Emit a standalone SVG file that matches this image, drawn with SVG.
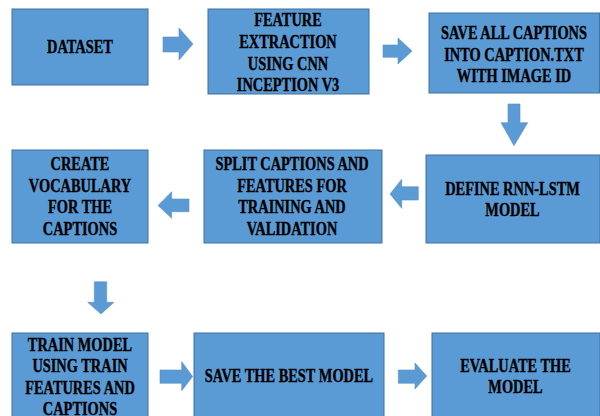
<svg xmlns="http://www.w3.org/2000/svg" width="600" height="416" viewBox="0 0 600 416">
  <style>
    .box { fill: #5B9BD5; stroke: #41719C; stroke-width: 1; }
    .arrow { fill: #5B9BD5; stroke: #5A8FC4; stroke-width: 0.6; }
    .label { font-weight: bold; font-size: 18px; text-anchor: middle; fill: #000; stroke: #000; stroke-width: 0.35; }
  </style>
  <rect width="600" height="416" fill="#FFFFFF"/>

  <!-- process steps -->
  <g font-family="'Liberation Serif', 'DejaVu Serif', serif">
  <g id="dataset">
    <rect class="box" x="12" y="9" width="136" height="76"/>
    <g transform="translate(80,0) scale(0.8,1)">
      <text class="label" x="0" y="53.5">DATASET</text>
    </g>
  </g>

  <g id="feature-extraction">
    <rect class="box" x="208" y="9" width="161" height="85"/>
    <g transform="translate(288,0) scale(0.8,1)">
      <text class="label" x="0" y="26">FEATURE</text>
      <text class="label" x="0" y="48.5">EXTRACTION</text>
      <text class="label" x="0" y="70">USING CNN</text>
      <text class="label" x="0" y="91">INCEPTION V3</text>
    </g>
  </g>

  <g id="save-captions">
    <rect class="box" x="429" y="13" width="170.5" height="80"/>
    <g transform="translate(514,0) scale(0.8,1)">
      <text class="label" x="0" y="39">SAVE ALL CAPTIONS</text>
      <text class="label" x="0" y="61">INTO CAPTION.TXT</text>
      <text class="label" x="0" y="82.5">WITH IMAGE ID</text>
    </g>
  </g>

  <g id="create-vocabulary">
    <rect class="box" x="12" y="150" width="136" height="93"/>
    <g transform="translate(80,0) scale(0.8,1)">
      <text class="label" x="0" y="170">CREATE</text>
      <text class="label" x="0" y="192.5">VOCABULARY</text>
      <text class="label" x="0" y="213.5">FOR THE</text>
      <text class="label" x="0" y="235.5">CAPTIONS</text>
    </g>
  </g>

  <g id="split-captions">
    <rect class="box" x="204" y="150" width="178" height="93"/>
    <g transform="translate(292,0) scale(0.8,1)">
      <text class="label" x="0" y="170">SPLIT CAPTIONS AND</text>
      <text class="label" x="0" y="192.5">FEATURES FOR</text>
      <text class="label" x="0" y="213.5">TRAINING AND</text>
      <text class="label" x="0" y="235.5">VALIDATION</text>
    </g>
  </g>

  <g id="define-model">
    <rect class="box" x="426" y="155" width="174" height="88"/>
    <g transform="translate(512.5,0) scale(0.8,1)">
      <text class="label" x="0" y="195">DEFINE RNN-LSTM</text>
      <text class="label" x="0" y="216.5">MODEL</text>
    </g>
  </g>

  <g id="train-model">
    <rect class="box" x="12" y="333" width="136" height="90"/>
    <g transform="translate(80,0) scale(0.8,1)">
      <text class="label" x="0" y="351">TRAIN MODEL</text>
      <text class="label" x="0" y="372.5">USING TRAIN</text>
      <text class="label" x="0" y="394">FEATURES AND</text>
      <text class="label" x="0" y="415">CAPTIONS</text>
    </g>
  </g>

  <g id="save-best-model">
    <rect class="box" x="194" y="333" width="190" height="90"/>
    <g transform="translate(289,0) scale(0.8,1)">
      <text class="label" x="0" y="382">SAVE THE BEST MODEL</text>
    </g>
  </g>

  <g id="evaluate-model">
    <rect class="box" x="432" y="333" width="168" height="90"/>
    <g transform="translate(515.5,0) scale(0.8,1)">
      <text class="label" x="0" y="372">EVALUATE THE</text>
      <text class="label" x="0" y="393.5">MODEL</text>
    </g>
  </g>
  </g>

  <!-- block arrows between steps -->
  <g id="connectors">
    <polygon class="arrow" points="163,37 179,37 179,28 193,44 179,60 179,52 163,52"/>
    <polygon class="arrow" points="383,45 398,45 398,38 412,51 398,64 398,57.3 383,57.3"/>
    <polygon class="arrow" points="508,104 520,104 520,122.7 527.7,122.7 514,145.7 501,122.7 508,122.7"/>
    <polygon class="arrow" points="418.3,186.7 401.7,186.7 401.7,179.3 390,194 401.7,208.3 401.7,200 418.3,200"/>
    <polygon class="arrow" points="189,199 171.7,199 171.7,191.7 158,205.5 171.7,218.3 171.7,211.7 189,211.7"/>
    <polygon class="arrow" points="94.3,281.7 106.7,281.7 106.7,302.3 114,302.3 101,314 87.7,302.3 94.3,302.3"/>
    <polygon class="arrow" points="160,370 181.7,370 181.7,361.7 192.7,376.5 181.7,390.7 181.7,383.3 160,383.3"/>
    <polygon class="arrow" points="398.3,370 415,370 415,363 426.7,376 415,389 415,383.3 398.3,383.3"/>
  </g>
</svg>
